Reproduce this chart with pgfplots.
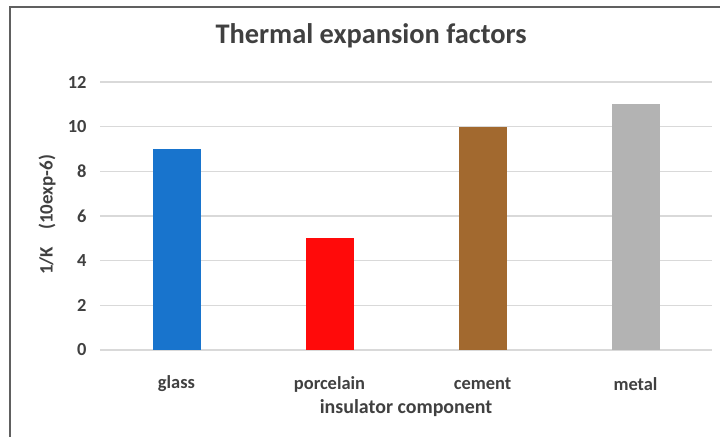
\documentclass[border=0pt]{standalone}
\usepackage{pgfplots}
\pgfplotsset{compat=1.18}
\usepackage{fontspec}
\setmainfont{Carlito}
\definecolor{txt}{HTML}{404040}
\definecolor{gridc}{HTML}{D9D9D9}
\definecolor{cglass}{HTML}{1874CD}
\definecolor{cporc}{HTML}{FF0A0A}
\definecolor{ccement}{HTML}{A2692F}
\definecolor{cmetal}{HTML}{B3B3B3}
\begin{document}
\begin{tikzpicture}[x=1bp,y=1bp]
\useasboundingbox (0,0) rectangle (720,437);
% chart frame (left and top edges)
\draw[color=gray!75!black, line width=2bp] (9.5,0) -- (9.5,430) -- (720,430);
\begin{axis}[
  at={(100bp,87bp)}, anchor=south west,
  scale only axis, width=612bp, height=268bp,
  xmin=-0.5, xmax=3.5, ymin=0, ymax=12,
  xtick={0,1,2,3},
  xticklabels={glass,porcelain,cement,metal},
  ytick={0,2,4,6,8,10,12},
  major tick length=0pt,
  axis line style={draw=none},
  ymajorgrids, grid style={gridc, line width=1.2bp},
  /pgf/number format/assume math mode=true,
  tick label style={font=\fontsize{18.5}{20}\selectfont\bfseries, text=txt},
  xticklabel style={anchor=center, yshift=-34bp},
  yticklabel style={anchor=east, xshift=-10bp},
  title={Thermal expansion factors},
  title style={font=\fontsize{28.5}{30}\selectfont\bfseries, text=txt,
    at={(axis description cs:0.443,1.149)}, anchor=center},
  xlabel={insulator component},
  xlabel style={font=\fontsize{20}{22}\selectfont\bfseries, text=txt,
    at={(axis description cs:0.5,-0.215)}, anchor=center},
  ylabel={1/K\ \ \ \ (10exp-6)},
  ylabel style={font=\fontsize{19}{21}\selectfont\bfseries, text=txt,
    at={(axis description cs:-0.0866,0.504)}, anchor=center, rotate=0},
  clip=false,
]
\addplot[ybar, bar width=48bp, fill=cglass, draw=none] coordinates {(0,9)};
\addplot[ybar, bar width=48bp, fill=cporc, draw=none] coordinates {(1,5)};
\addplot[ybar, bar width=48bp, fill=ccement, draw=none] coordinates {(2,10)};
\addplot[ybar, bar width=48bp, fill=cmetal, draw=none] coordinates {(3,11)};
\end{axis}
\end{tikzpicture}
\end{document}
